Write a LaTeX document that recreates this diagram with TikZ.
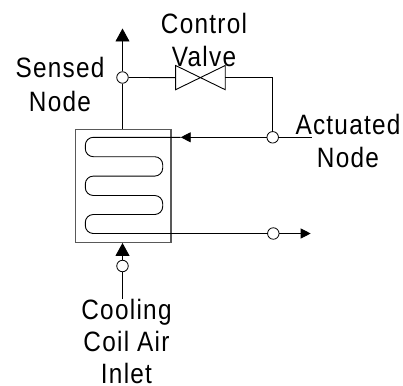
\documentclass[tikz,border=0pt]{standalone}
\usepackage{fontspec}
\setmainfont{Liberation Sans}[FakeStretch=0.87,LetterSpace=4.5]
\usetikzlibrary{calc}
\usetikzlibrary{positioning}
\usetikzlibrary{arrows.meta}

\begin{document}
\begin{tikzpicture}[x=1pt,y=-1pt,line width=0.9pt,
  junction node/.style={circle,draw,fill=white,inner sep=0pt,
  minimum size=11.5pt,line width=0.8pt},
  label node/.style={font=\fontsize{28}{33.4}\selectfont,
  align=center,inner sep=0pt,anchor=north},
  big arrow/.style={-{Triangle[length=13pt,width=14pt]}},
  small arrow/.style={-{Triangle[length=10pt,width=10pt]}}]
  \useasboundingbox (0,0) rectangle (403,385);

  % coil box and valve
  \node[draw=black!65,line width=1.3pt,minimum width=95.7pt,
  minimum height=112.8pt,inner sep=0pt] (coil) at (123.2,185.9) {};
  \node[minimum width=48.7pt,minimum height=23.3pt,inner sep=0pt]
  (valve) at (200.4,77.6) {};

  % junctions
  \node[junction node] (sensed) at (122.5,77.5) {};
  \node[junction node] (actuated) at (272.7,137.3) {};
  \node[junction node] (outlet) at (273.3,233.5) {};
  \node[junction node] (inlet) at (122.5,266) {};

  % free ends
  \coordinate (sensedend) at (122.5,28.5);
  \coordinate (actend) at (311.5,137.3);
  \coordinate (outend) at (310.7,233.5);
  \coordinate (coilin) at (180.7,137.3);

  % labels
  \node[label node] (sensedlbl) at (60,57) {Sensed\\Node};
  \node[label node] (valvelbl) at (204,12.7) {Control\\Valve};
  \node[label node] (actuatedlbl) at (348,113.3) {Actuated\\Node};
  \node[label node,font=\fontsize{28}{31.8}\selectfont] (inletlbl)
  at (126.5,299) {Cooling\\Coil Air\\Inlet};

  % valve body
  \draw (valve.north west) -- (valve.south east) -- (valve.north east)
    -- (valve.south west) -- cycle;

  % lines
  \draw (sensed |- coil.north) -- (sensed);
  \draw[big arrow] (sensed) -- (sensedend);
  \draw (sensed) -- (valve.west);
  \draw (valve.east) -| (actuated);
  \draw (actuated) -- (actend);
  \draw[small arrow] (actuated) -- (coilin);
  \draw[rounded corners=8pt] (coilin) -- (85.3,137.3) -- (85.3,156.7)
    -- (162.7,156.7) -- (162.7,176.1) -- (85.3,176.1) -- (85.3,195.5)
    -- (162.7,195.5) -- (162.7,214.5) -- (85.3,214.5) -- (85.3,233.5)
    -- (outlet);
  \draw[small arrow] (outlet) -- (outend);
  \draw[big arrow] (inlet) -- (inlet |- coil.south);
  \draw (inlet) -- (inlet |- inletlbl.north);
\end{tikzpicture}
\end{document}
